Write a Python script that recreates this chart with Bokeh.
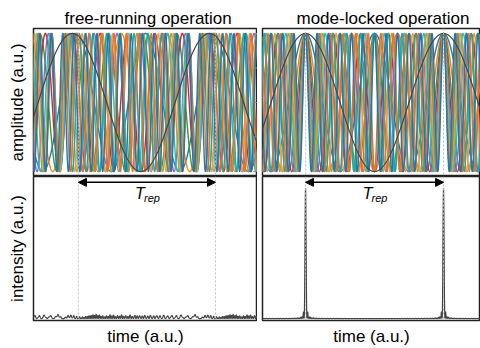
import numpy as np
from bokeh.plotting import figure
from bokeh.layouts import column, row
from bokeh.models import Span, Arrow, NormalHead, Label, FixedTicker, Range1d
from bokeh.embed import file_html
from bokeh.resources import INLINE

# ---- data -------------------------------------------------------------
panel_titles = ["free-running operation", "mode-locked operation"]
y_labels = ["amplitude (a.u.)", "intensity (a.u.)"]
x_label = "time (a.u.)"
period_label = "T"
period_sub = "rep"

# longitudinal modes: frequency index (multiples of 1/T_rep)
mode_numbers = list(range(1, 49))
# number of modes whose field is drawn in the amplitude panels
shown_modes = 12
# phases (rad) of the modes in free-running operation (estimated)
free_phases = [0.28, 0.13, 0.39, 0.79, 1.31, 1.96, 2.75, 3.67, 4.71, 5.89, 0.92, 2.36,
               3.93, 5.63, 1.18, 3.14, 5.24, 1.18, 3.53, 6.02, 2.36, 5.11, 1.70, 4.71,
               1.57, 4.84, 1.96, 5.50, 2.88, 0.39, 4.32, 2.09, 0.00, 4.32, 2.49, 0.79,
               5.50, 4.06, 2.75, 1.57, 0.52, 5.89, 5.11, 4.45, 3.93, 3.53, 3.27, 3.14]
# phases in mode-locked operation: all equal
locked_phases = [0.0] * 48
# pulse positions (in units of T_rep)
pulse_times = [0.0, 1.0]
amp_ticks = [-1.0, -0.5, 0.0, 0.5, 1.0]

mode_colors = ["#1f77b4", "#ff7f0e", "#2ca02c", "#d62728", "#9467bd",
               "#17becf", "#b0a53a", "#f39a4a", "#26a69a", "#e8702a"]
first_mode_color = "#444444"

t = np.arange(-350, 1351) / 1000.0  # time axis in units of T_rep


def fields(phases):
    out = []
    for n, ph in zip(mode_numbers, phases):
        out.append(np.cos(2 * np.pi * n * t + ph))
    return out


FONT = "Liberation Sans"


def style_axis(ax, standoff):
    ax.ticker = FixedTicker(ticks=[])
    ax.axis_line_color = None
    ax.major_tick_line_color = None
    ax.minor_tick_line_color = None
    ax.major_tick_out = 0
    ax.minor_tick_out = 0
    ax.major_label_standoff = 0
    ax.axis_label_standoff = standoff
    ax.axis_label_text_font = FONT
    ax.axis_label_text_font_size = "17px"
    ax.axis_label_text_font_style = "normal"
    ax.axis_label_text_color = "black"


def base_fig(width, height, xr, yr, left, top, bottom):
    p = figure(width=width, height=height, x_range=Range1d(*xr), y_range=Range1d(*yr),
               output_backend="svg", toolbar_location=None,
               min_border_left=left, min_border_right=0,
               min_border_top=top, min_border_bottom=bottom)
    p.grid.visible = False
    p.outline_line_color = "#222222"
    p.outline_line_width = 1.5
    p.background_fill_color = "white"
    p.border_fill_color = "white"
    style_axis(p.xaxis[0], 6)
    style_axis(p.yaxis[0], 7)
    return p


def add_spans(p):
    for loc in pulse_times:
        p.add_layout(Span(location=loc, dimension="height", line_color="#c0c0c0",
                          line_dash="2 2", line_width=1))


amp_range = (-1.072, 1.072)
int_range = (-0.015, 1.09)
xr_left = (-0.328, 1.307)
xr_right = (-0.312, 1.268)
title_offsets = [31, 34]

figs = []
for col, (phases, xr) in enumerate([(free_phases, xr_left), (locked_phases, xr_right)]):
    w = 257 if col == 0 else 223
    lb = 33 if col == 0 else 5
    # --- top: mode amplitudes
    pt = base_fig(w, 176, xr, amp_range, lb, 28, 0)
    pt.title.text = panel_titles[col]
    pt.title.align = "left"
    pt.title.offset = title_offsets[col]
    pt.title.standoff = 2
    pt.title.text_font = FONT
    pt.title.text_font_size = "17px"
    pt.title.text_font_style = "normal"
    pt.title.text_color = "black"
    pt.xaxis.visible = False
    if col == 0:
        pt.yaxis.axis_label = y_labels[0]
    else:
        pt.yaxis.visible = False
    f = fields(phases)
    for i in range(1, shown_modes):
        pt.line(t, f[i], line_color=mode_colors[(i - 1) % len(mode_colors)], line_width=1.4)
    pt.line(t, f[0], line_color=first_mode_color, line_width=1.2)
    if col == 0:
        # small inward ticks on the right edge of the amplitude panel
        pt.ray(x=[xr[1]] * len(amp_ticks), y=amp_ticks, length=4, length_units="screen",
               angle=np.pi, line_color="#888888", line_width=1)
    add_spans(pt)

    # --- bottom: intensity
    pb = base_fig(w, 172, xr, int_range, lb, 0, 26)
    total = np.sum(f, axis=0)
    inten = total ** 2 / len(mode_numbers) ** 2
    pb.line(t, inten, line_color="#444444", line_width=1.2)
    add_spans(pb)
    pb.xaxis.axis_label = x_label
    if col == 0:
        pb.yaxis.axis_label = y_labels[1]
    else:
        pb.yaxis.visible = False
    pb.add_layout(Arrow(start=NormalHead(size=8, fill_color="black", line_color="black"),
                        end=NormalHead(size=8, fill_color="black", line_color="black"),
                        x_start=pulse_times[0], x_end=pulse_times[1],
                        y_start=1.045, y_end=1.045, line_color="black", line_width=1.5))
    mid = (pulse_times[0] + pulse_times[1]) / 2
    pb.add_layout(Label(x=mid, y=1.025, x_offset=-7, text=period_label, text_align="center",
                        text_baseline="top", text_font=FONT, text_font_style="italic",
                        text_font_size="16px", text_color="black"))
    pb.add_layout(Label(x=mid, y=1.025, x_offset=5, y_offset=-7, text=period_sub,
                        text_align="center", text_baseline="top", text_font=FONT,
                        text_font_style="italic", text_font_size="11px", text_color="black"))
    figs.append((pt, pb))

layout = column(row(figs[0][0], figs[1][0]), row(figs[0][1], figs[1][1]))

open("out.html", "w").write(file_html(layout, INLINE))
